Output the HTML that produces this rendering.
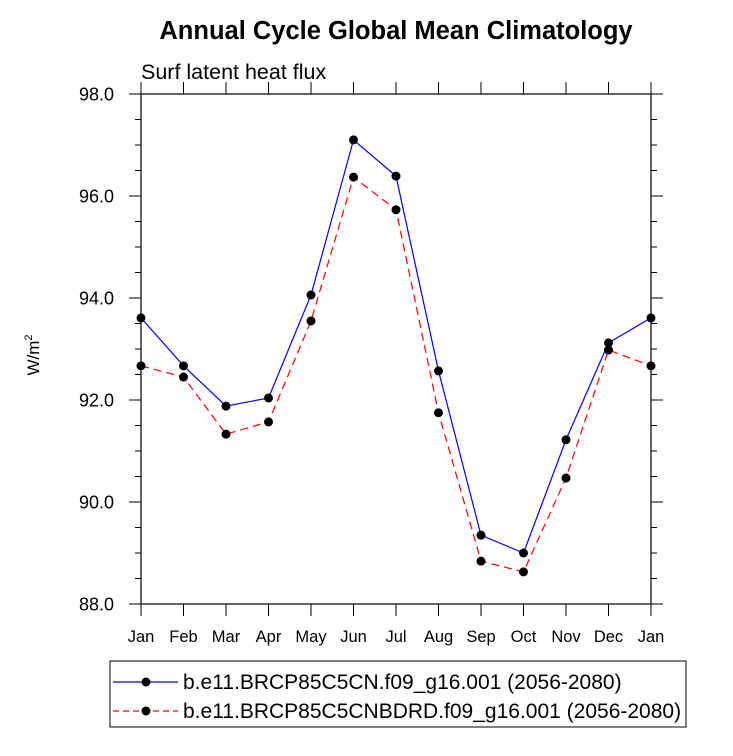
<!DOCTYPE html>
<html><head><meta charset="utf-8"><style>
body{margin:0;background:#fff;}
svg text{font-family:"Liberation Sans",Arial,sans-serif;}
</style></head><body>
<svg width="733" height="751" viewBox="0 0 733 751" id="chart">
<text x="396" y="39" text-anchor="middle" font-size="25.5" font-weight="bold">Annual Cycle Global Mean Climatology</text>
<text x="141" y="79" font-size="21.5">Surf latent heat flux</text>
<text transform="translate(39,355) rotate(-90)" text-anchor="middle" font-size="17">W/m<tspan dy="-7" font-size="11">2</tspan></text>
<g id="axes"></g>
<g id="series"></g>
<rect x="110" y="661" width="576" height="66" fill="none" stroke="#000" stroke-width="1"/>
<g>
<line x1="113" y1="682" x2="178" y2="682" stroke="#0000ff" stroke-width="1.2"/>
<circle cx="146" cy="682" r="4.5" fill="#000"/>
<text x="183" y="689" font-size="21">b.e11.BRCP85C5CN.f09_g16.001 (2056-2080)</text>
</g>
<g>
<line x1="113" y1="711" x2="178" y2="711" stroke="#ff0000" stroke-width="1.2" stroke-dasharray="6,4"/>
<circle cx="146" cy="711" r="4.5" fill="#000"/>
<text x="183" y="718" font-size="21">b.e11.BRCP85C5CNBDRD.f09_g16.001 (2056-2080)</text>
</g>
</svg>
<script>
const months=["Jan","Feb","Mar","Apr","May","Jun","Jul","Aug","Sep","Oct","Nov","Dec","Jan"];
const yTicks=[88,90,92,94,96,98];
const yTickLabels=["88.0","90.0","92.0","94.0","96.0","98.0"];
const seriesCN=[93.61,92.67,91.88,92.04,94.06,97.10,96.39,92.57,89.35,89.0,91.22,93.12,93.61];
const seriesBDRD=[92.67,92.45,91.33,91.57,93.55,96.37,95.73,91.75,88.84,88.63,90.47,92.98,92.67];
const NS="http://www.w3.org/2000/svg";
const X0=141,X1=651,Y0=604,Y1=94,YMIN=88,YMAX=98;
const xs=i=>X0+(X1-X0)*i/(months.length-1);
const ys=v=>Y0-(v-YMIN)/(YMAX-YMIN)*(Y0-Y1);
function mk(tag,attrs,parent){const e=document.createElementNS(NS,tag);for(const k in attrs)e.setAttribute(k,attrs[k]);parent.appendChild(e);return e;}
const ax=document.getElementById('axes');
const frame=mk('rect',{x:X0,y:Y1,width:X1-X0,height:Y0-Y1,fill:'none',stroke:'#000','stroke-width':1.2},ax);


months.forEach((m,i)=>{
  const x=xs(i);
  mk('line',{x1:x,y1:Y0,x2:x,y2:Y0+12,stroke:'#000'},ax);
  mk('line',{x1:x,y1:Y1,x2:x,y2:Y1-12,stroke:'#000'},ax);
  const t=mk('text',{x:x,y:Y0+38,'text-anchor':'middle','font-size':16.5},ax);
  t.textContent=m;
  
  
});
for(let v=YMIN;v<=YMAX+0.001;v+=0.5){
  const y=ys(v);const major=Math.abs(v-Math.round(v/2)*2)<0.001;
  const L=major?12:6;
  mk('line',{x1:X0,y1:y,x2:X0-L,y2:y,stroke:'#000'},ax);
  mk('line',{x1:X1,y1:y,x2:X1+L,y2:y,stroke:'#000'},ax);
}
yTicks.forEach((v,i)=>{
  const t=mk('text',{x:X0-27,y:ys(v)+6.5,'text-anchor':'end','font-size':18},ax);
  t.textContent=yTickLabels[i];
  
  
});
const sg=document.getElementById('series');
function draw(vals,color,dash,name){
  const g=mk('g',{},sg);
  
  
  const p=mk('polyline',{points:vals.map((v,i)=>xs(i)+','+ys(v)).join(' '),fill:'none',stroke:color,'stroke-width':1.2},g);
  if(dash)p.setAttribute('stroke-dasharray',dash);
  vals.forEach((v,i)=>{
    const c=mk('circle',{cx:xs(i),cy:ys(v),r:4.5,fill:'#000'},g);
    
    
  });
}
draw(seriesCN,'#0000ff',null,'series-cn');
draw(seriesBDRD,'#ff0000','8,5','series-bdrd');
</script>
</body></html>
